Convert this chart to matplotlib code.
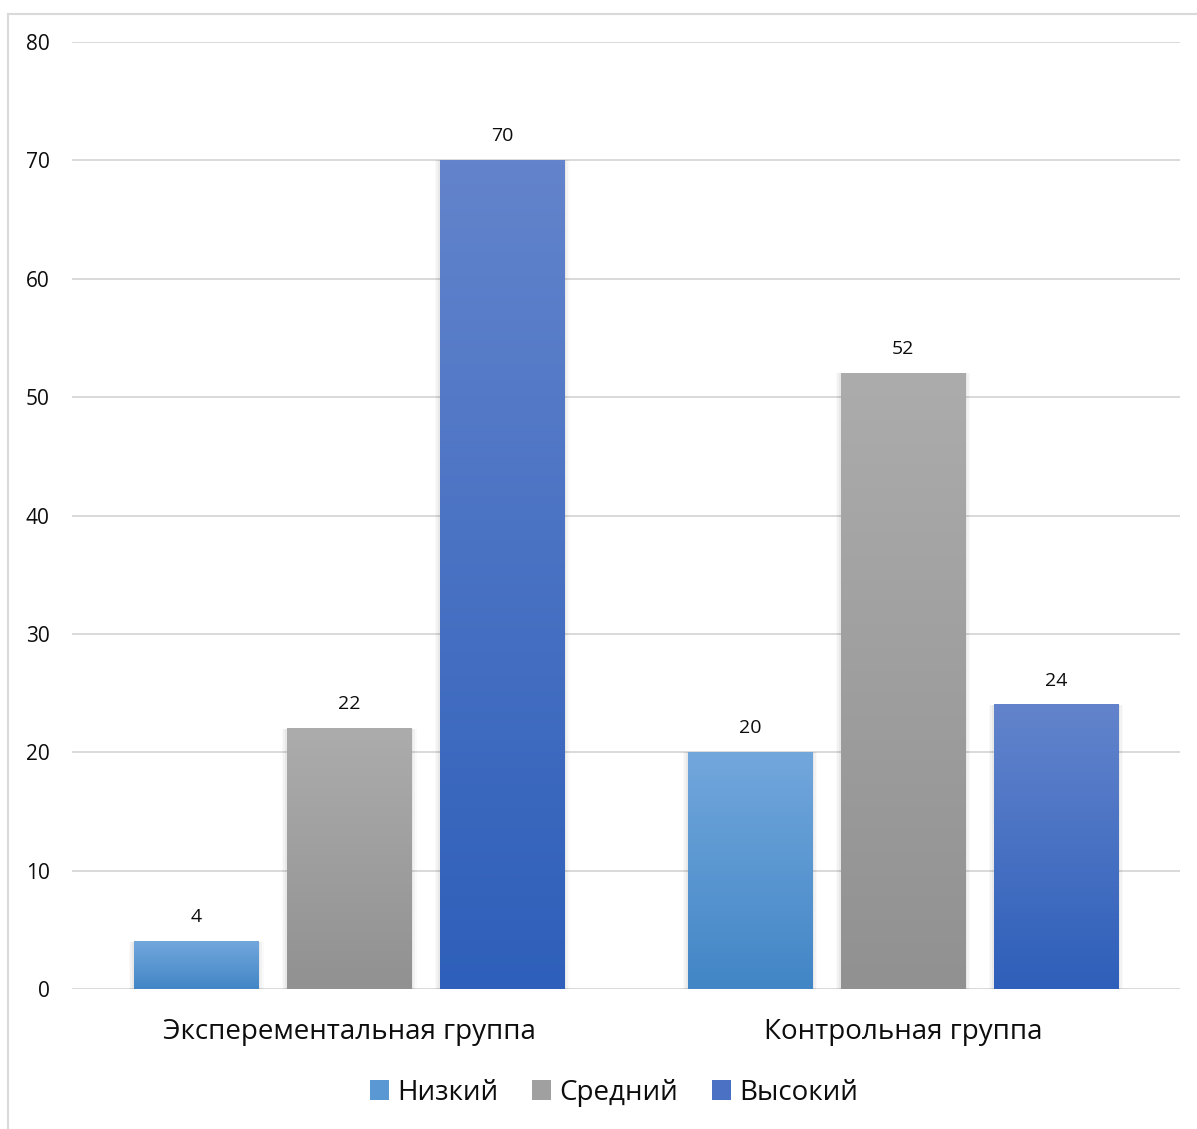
import numpy as np
import matplotlib.pyplot as plt
from matplotlib.colors import LinearSegmentedColormap
from matplotlib.patches import Rectangle
from matplotlib.lines import Line2D

plt.rcParams['font.family'] = ['Open Sans', 'DejaVu Sans']

groups = ['Эксперементальная группа', 'Контрольная группа']
levels = ['Низкий', 'Средний', 'Высокий']
low = [4, 20]
mid = [22, 52]
high = [70, 24]

# top / bottom colours of each series gradient
grad_colors = [('#72a7dc', '#4286c6'),
               ('#acacac', '#919191'),
               ('#6384cc', '#2e5fba')]
text_color = '#0d0d0d'

fig = plt.figure(figsize=(11.97, 11.29), dpi=100)
ax = fig.add_axes([0.0602, 0.124, 0.9256, 0.8388])

x = np.arange(len(groups))
width = 0.2256
step = 0.2762

def gradient_bar(ax, xc, h, top, bottom):
    cmap = LinearSegmentedColormap.from_list('g', [bottom, top])
    # soft shadow behind the bar
    for i, a in enumerate([0.04, 0.03, 0.02]):
        d = 0.003 * (i + 1)
        ax.add_patch(Rectangle((xc - width / 2 - d, -0.15 * (i + 1)), width + 2 * d, h + 0.15 * (i + 1),
                               facecolor='black', alpha=a, edgecolor='none', zorder=2))
    grad = np.linspace(0, 1, 256).reshape(-1, 1)
    ax.imshow(grad, extent=(xc - width / 2, xc + width / 2, 0, h), origin='lower',
              cmap=cmap, aspect='auto', zorder=3, interpolation='bicubic')

for k, vals in enumerate([low, mid, high]):
    for i, v in enumerate(vals):
        xc = x[i] + (k - 1) * step
        gradient_bar(ax, xc, v, *grad_colors[k])
        ax.annotate(str(v), (xc, v), xytext=(0, 11), textcoords='offset points',
                    ha='center', va='bottom', fontsize=14, color=text_color)

ax.set_xlim(-0.5, 1.5)
ax.set_ylim(0, 80)
ax.set_yticks(range(0, 81, 10))
ax.set_xticks(x)
ax.set_xticklabels(groups, fontsize=20, color=text_color)
ax.tick_params(axis='x', length=0, pad=21)
ax.tick_params(axis='y', length=0, pad=16, labelsize=15, labelcolor=text_color)
ax.grid(axis='y', color='#d9d9d9', linewidth=1.4, zorder=0)
ax.set_axisbelow(True)
for s in ax.spines.values():
    s.set_visible(False)

handles = [Rectangle((0, 0), 1, 1, facecolor=col) for col in ['#5a98d4', '#a0a0a0', '#4a71c4']]
leg = fig.legend(handles, levels, loc='center', bbox_to_anchor=(0.513, 0.032), ncol=3, frameon=False,
                 fontsize=20, handlelength=0.7, handleheight=0.7, handletextpad=0.3, columnspacing=1.2)
for t in leg.get_texts():
    t.set_color(text_color)

# outer chart border
fig.add_artist(Line2D([8 / 1197, 8 / 1197], [0, 1 - 14 / 1129], transform=fig.transFigure,
                      color='#d9d9d9', linewidth=1.5))
fig.add_artist(Line2D([8 / 1197, 1], [1 - 14 / 1129, 1 - 14 / 1129], transform=fig.transFigure,
                      color='#d9d9d9', linewidth=1.5))

fig.savefig('out.png', dpi=100, facecolor='white')
